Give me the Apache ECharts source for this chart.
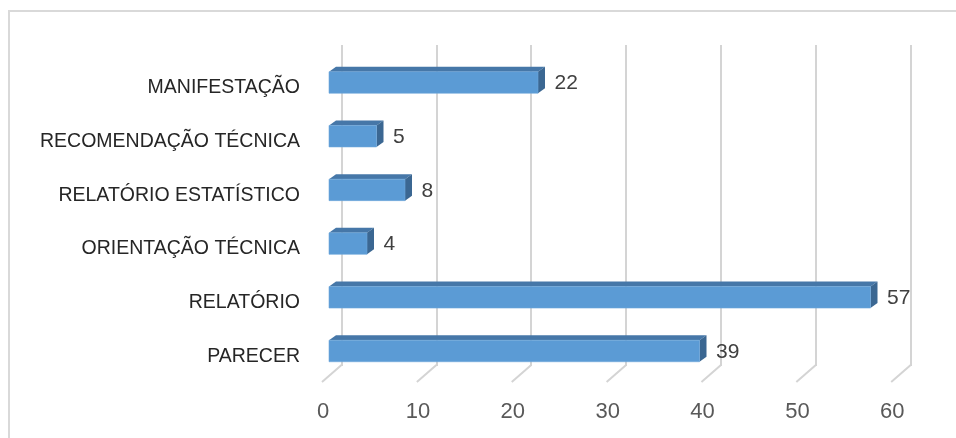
<!DOCTYPE html>
<html>
<head>
<meta charset="utf-8">
<script src="https://cdn.jsdelivr.net/npm/echarts@6/dist/echarts.min.js"></script>
<style>
html,body{margin:0;padding:0;background:#fff;}
#chart{width:956px;height:438px;}
</style>
</head>
<body>
<div id="chart"></div>
<script>
const categories = ['MANIFESTAÇÃO','RECOMENDAÇÃO TÉCNICA','RELATÓRIO ESTATÍSTICO','ORIENTAÇÃO TÉCNICA','RELATÓRIO','PARECER'];
const values = [22, 5, 8, 4, 57, 39];
const xTicks = [0, 10, 20, 30, 40, 50, 60];
const xMin = 0, xMax = 60, xStep = 10;

const FONT = '"Liberation Sans", Arial, sans-serif';
const DEPTH_X = 7, DEPTH_Y = -5;

const chart = echarts.init(document.getElementById('chart'), null, {renderer: 'canvas'});

function renderBar(params, api) {
  const cat = api.value(1);
  const v = api.value(0);
  const s = api.coord([0, cat]);
  const e = api.coord([v, cat]);
  const band = api.size([0, 1])[1];
  const h = band * 0.4;
  const top = e[1] - h / 2, bottom = e[1] + h / 2;
  const x0 = s[0], x1 = e[0];
  return {
    type: 'group',
    children: [
      {type: 'polygon', shape: {points: [[x0, top], [x1, top], [x1 + DEPTH_X, top + DEPTH_Y], [x0 + DEPTH_X, top + DEPTH_Y]]},
        style: {fill: '#4677a8'}},
      {type: 'polygon', shape: {points: [[x1, top], [x1 + DEPTH_X, top + DEPTH_Y], [x1 + DEPTH_X, bottom + DEPTH_Y], [x1, bottom]]},
        style: {fill: '#3b6792'}},
      {type: 'rect', shape: {x: x0, y: top, width: x1 - x0, height: h},
        style: {fill: '#5b9bd5', stroke: '#6fa8dc', lineWidth: 0.6}},
      {type: 'text', style: {text: String(v), x: x1 + DEPTH_X + 9.5, y: e[1] + 1,
        verticalAlign: 'middle', align: 'left', font: '21px ' + FONT, fill: '#404040'}}
    ]
  };
}

function renderFloor(params, api) {
  const p = api.coord([api.value(0), 0]);
  return {
    type: 'line',
    shape: {x1: p[0], y1: p[1] - 1, x2: p[0] - 19.5, y2: p[1] + 16},
    style: {stroke: '#d4d4d4', lineWidth: 2}
  };
}

const option = {
  backgroundColor: '#fff',
  animation: false,
  graphic: [{
    type: 'rect', silent: true, z: -10,
    shape: {x: 9, y: 11, width: 1000, height: 500},
    style: {fill: 'none', stroke: '#d9d9d9', lineWidth: 2}
  }],
  grid: [
    {left: 341.5, width: 569.2, top: 45, height: 321},
    {left: 323, width: 569.3, top: 45, height: 367},
    {left: 329, width: 570, top: 55.65, height: 322.2},
    {left: 329, width: 570, top: 60.9, height: 322.2}
  ],
  xAxis: [
    {gridIndex: 0, type: 'value', min: xMin, max: xMax, interval: xStep,
      axisLine: {show: false}, axisTick: {show: false}, axisLabel: {show: false},
      splitLine: {show: true, lineStyle: {color: '#d4d4d4', width: 2}}},
    {gridIndex: 1, type: 'value', min: xMin, max: xMax, interval: xStep,
      axisLine: {show: false}, axisTick: {show: false}, splitLine: {show: false},
      axisLabel: {show: true, margin: 0, verticalAlign: 'middle', fontFamily: FONT, fontSize: 22, color: '#595959'}},
    {gridIndex: 2, type: 'value', min: xMin, max: xMax,
      show: false, splitLine: {show: false}},
    {gridIndex: 3, type: 'value', min: xMin, max: xMax,
      show: false, splitLine: {show: false}}
  ],
  yAxis: [
    {gridIndex: 0, type: 'value', min: 0, max: 1, show: false, splitLine: {show: false}},
    {gridIndex: 1, type: 'value', min: 0, max: 1, show: false, splitLine: {show: false}},
    {gridIndex: 2, type: 'category', data: categories, inverse: true, show: false},
    {gridIndex: 3, type: 'category', data: categories, inverse: true,
      axisLine: {show: false}, axisTick: {show: false}, splitLine: {show: false},
      axisLabel: {margin: 29, fontFamily: FONT, fontSize: 19.5, color: '#262626'}}
  ],
  series: [
    {type: 'custom', xAxisIndex: 0, yAxisIndex: 0, renderItem: renderFloor,
      data: xTicks.map(t => [t, 0]), silent: true, z: 1},
    {type: 'custom', xAxisIndex: 2, yAxisIndex: 2, renderItem: renderBar,
      encode: {x: 0, y: 1},
      data: values.map((v, i) => [v, i]), z: 5}
  ]
};
chart.setOption(option);
</script>
</body>
</html>
